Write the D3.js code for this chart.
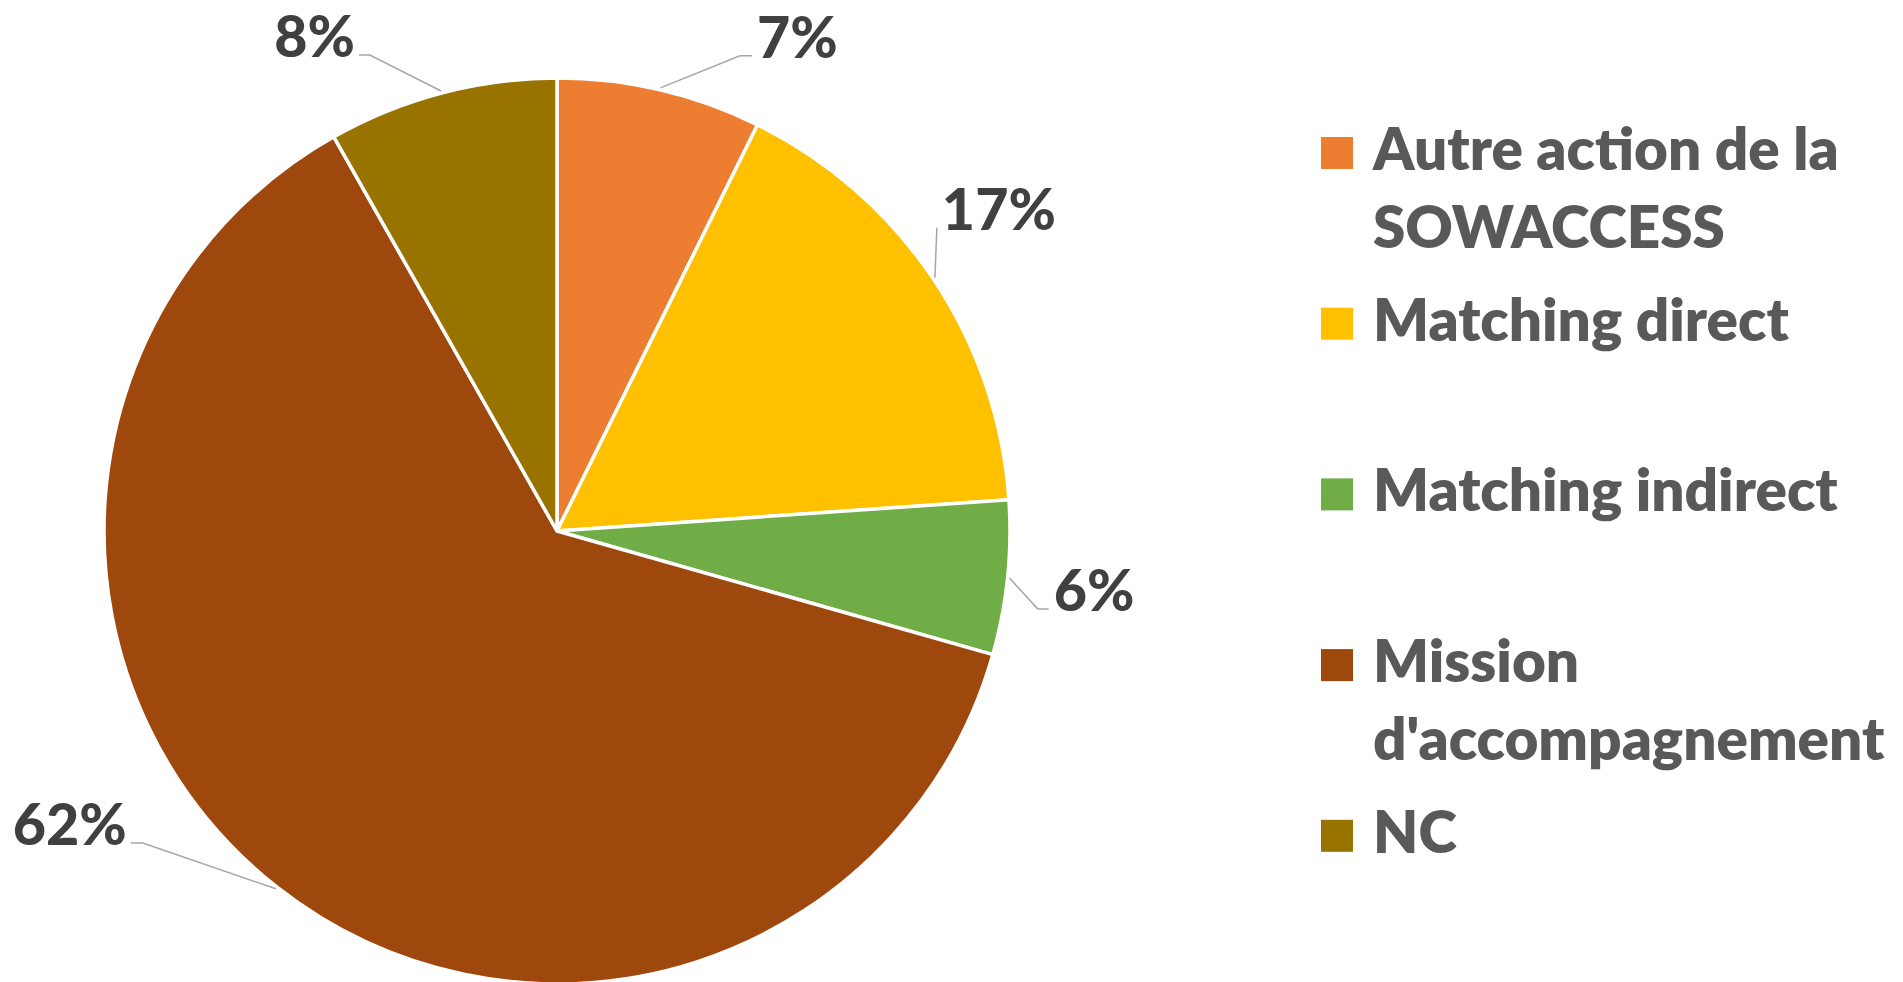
<!DOCTYPE html>
<html lang="fr">
  <head>
    <meta charset="utf-8">
    <title>Répartition</title>
    <script type="text/javascript" src="https://cdn.jsdelivr.net/npm/d3@7/dist/d3.min.js"></script>
    <style>
      body { margin: 0; background: #fff; }
      svg { display: block; }
    </style>
  </head>
  <body>
    <script type="text/javascript">
      // data
      var categories = ["Autre action de la SOWACCESS", "Matching direct", "Matching indirect",
                        "Mission d'accompagnement", "NC"];
      var values = [7.3, 16.6, 5.5, 62.4, 8.2];
      var colors = ["#ED7D31", "#FFC000", "#70AD47", "#9E480E", "#997300"];

      // layout
      var width = 1903, height = 982;
      var cx = 557, cy = 531, radius = 453;
      var font = "Lato, 'Open Sans', sans-serif";
      // where each leader line meets its label: [angle in degrees, distance / radius]
      var labelPolar = [[22.3, 1.134], [51.4, 1.073], [99.0, 1.099], [233.8, 1.166], [337.4, 1.138]];
      var elbowLen = [12, 0, 11, 12, 11];

      var svg = d3.select("body")
            .append("svg")
            .attr("width", width)
            .attr("height", height);

      // fit font sizes to the widths seen in the original
      function fitSize(str, target, weight) {
        var t = svg.append("text")
          .attr("font-family", font)
          .attr("font-weight", weight)
          .attr("font-size", 100)
          .text(str);
        var w = t.node().getComputedTextLength();
        t.remove();
        return 100 * target / w;
      }
      var labelSize = fitSize("62%", 114, 900);
      var legendSize = fitSize("Matching direct", 416, 800);

      var pie = d3.pie().sort(null).value(function(d){ return d; });
      var arcs = pie(values);
      var arc = d3.arc().innerRadius(0).outerRadius(radius);

      var g = svg.append("g").attr("transform", "translate(" + cx + "," + cy + ")");

      g.selectAll("path.slice")
       .data(arcs)
       .enter()
       .append("path")
       .attr("class", "slice")
       .attr("d", arc)
       .attr("fill", function(d, i){ return colors[i]; })
       .attr("stroke", "#fff")
       .attr("stroke-width", 3.5)
       .attr("stroke-linejoin", "round");

      // leader lines
      var toRad = Math.PI / 180;
      function anchorOf(i) {
        return d3.pointRadial(labelPolar[i][0] * toRad, labelPolar[i][1] * radius);
      }

      g.selectAll("polyline.leader")
       .data(arcs)
       .enter()
       .append("polyline")
       .attr("class", "leader")
       .attr("points", function(d, i){
         var mid = (d.startAngle + d.endAngle) / 2;
         var start = d3.pointRadial(mid, radius + 2);
         var a = anchorOf(i);
         var side = a[0] > 0 ? 1 : -1;
         var elbow = [a[0] - side * elbowLen[i], a[1]];
         return [start, elbow, a].map(function(p){ return p.join(","); }).join(" ");
       })
       .attr("fill", "none")
       .attr("stroke", "#A6A6A6")
       .attr("stroke-width", 1.5);

      g.selectAll("text.pct")
       .data(arcs)
       .enter()
       .append("text")
       .attr("class", "pct")
       .text(function(d){ return Math.round(d.value) + "%"; })
       .attr("x", function(d, i){
         var a = anchorOf(i);
         return a[0] > 0 ? a[0] + 5 : a[0] - 4;
       })
       .attr("y", function(d, i){ return anchorOf(i)[1] + 2; })
       .attr("text-anchor", function(d, i){ return anchorOf(i)[0] > 0 ? "start" : "end"; })
       .attr("font-family", font)
       .attr("font-weight", 900)
       .attr("font-size", labelSize)
       .attr("fill", "#404040");

      // legend
      var legendX = 1321, textX = 1373, firstBaseline = 170, step = 170.7, lineH = 78;
      var maxTextW = 525;

      var legend = svg.selectAll("g.legend")
        .data(categories)
        .enter()
        .append("g")
        .attr("class", "legend")
        .attr("transform", function(d, i){ return "translate(0," + (firstBaseline + i * step) + ")"; });

      legend.append("rect")
        .attr("x", legendX)
        .attr("y", -33)
        .attr("width", 32)
        .attr("height", 32)
        .attr("fill", function(d, i){ return colors[i]; });

      legend.append("text")
        .attr("font-family", font)
        .attr("font-weight", 800)
        .attr("font-size", legendSize)
        .attr("fill", "#595959")
        .each(function(d){
          var text = d3.select(this);
          var words = d.split(" ");
          var line = [];
          var lineNo = 0;
          var tspan = text.append("tspan").attr("x", textX).attr("y", 0);
          words.forEach(function(w){
            line.push(w);
            tspan.text(line.join(" "));
            if (tspan.node().getComputedTextLength() > maxTextW && line.length > 1) {
              line.pop();
              tspan.text(line.join(" "));
              line = [w];
              lineNo++;
              tspan = text.append("tspan").attr("x", textX).attr("y", lineNo * lineH).text(w);
            }
          });
        });
    </script>
  </body>
</html>
